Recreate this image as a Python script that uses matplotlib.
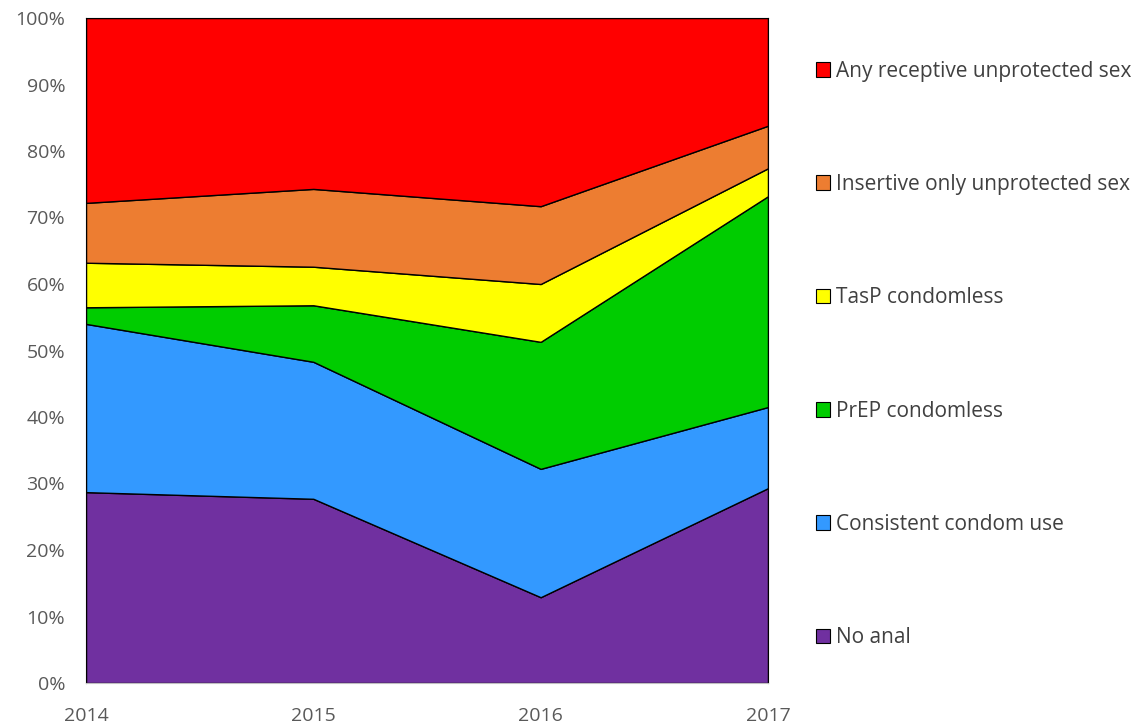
import matplotlib.pyplot as plt
from matplotlib.patches import Patch

plt.rcParams['font.family'] = ['Open Sans', 'DejaVu Sans']

years = [2014, 2015, 2016, 2017]
labels = ["No anal", "Consistent condom use", "PrEP condomless",
          "TasP condomless", "Insertive only unprotected sex",
          "Any receptive unprotected sex"]
no_anal = [28.7, 27.7, 12.9, 29.3]
consistent = [25.3, 20.6, 19.3, 12.2]
prep = [2.5, 8.5, 19.1, 31.7]
tasp = [6.7, 5.8, 8.7, 4.2]
insertive = [9.0, 11.7, 11.7, 6.4]
receptive = [27.8, 25.7, 28.3, 16.2]
colors = ["#7030a0", "#3399ff", "#00cc00", "#ffff00", "#ed7d31", "#ff0000"]

fig = plt.figure(figsize=(11.39, 7.25), dpi=100)
ax = fig.add_axes([86/1139, 1 - 683/725, (768-86)/1139, (683-18)/725])

series = [no_anal, consistent, prep, tasp, insertive, receptive]
ax.stackplot(years, *series, colors=colors, edgecolor="black", linewidth=1)

ax.set_xlim(2014, 2017)
ax.set_ylim(0, 100)
ax.set_xticks(years)
ax.set_yticks(range(0, 101, 10))
ax.set_yticklabels([f"{v}%" for v in range(0, 101, 10)])
ax.tick_params(length=0, labelsize=14, colors="#595959")
ax.tick_params(axis="y", pad=15)
ax.tick_params(axis="x", pad=17)
for s in ["left", "right", "top"]:
    ax.spines[s].set_color("black")
ax.spines["bottom"].set_color("#bfbfbf")

handles = [Patch(facecolor=c, edgecolor="black", linewidth=0.8) for c in colors]
leg = fig.legend(handles[::-1], labels[::-1], loc="upper left",
                 bbox_to_anchor=(797/1139, 1 - 42/725), frameon=False,
                 fontsize=15, handlelength=0.7, handleheight=0.7,
                 handletextpad=0.25, labelspacing=4.43, labelcolor="#404040")

fig.savefig("out.png", dpi=100)
